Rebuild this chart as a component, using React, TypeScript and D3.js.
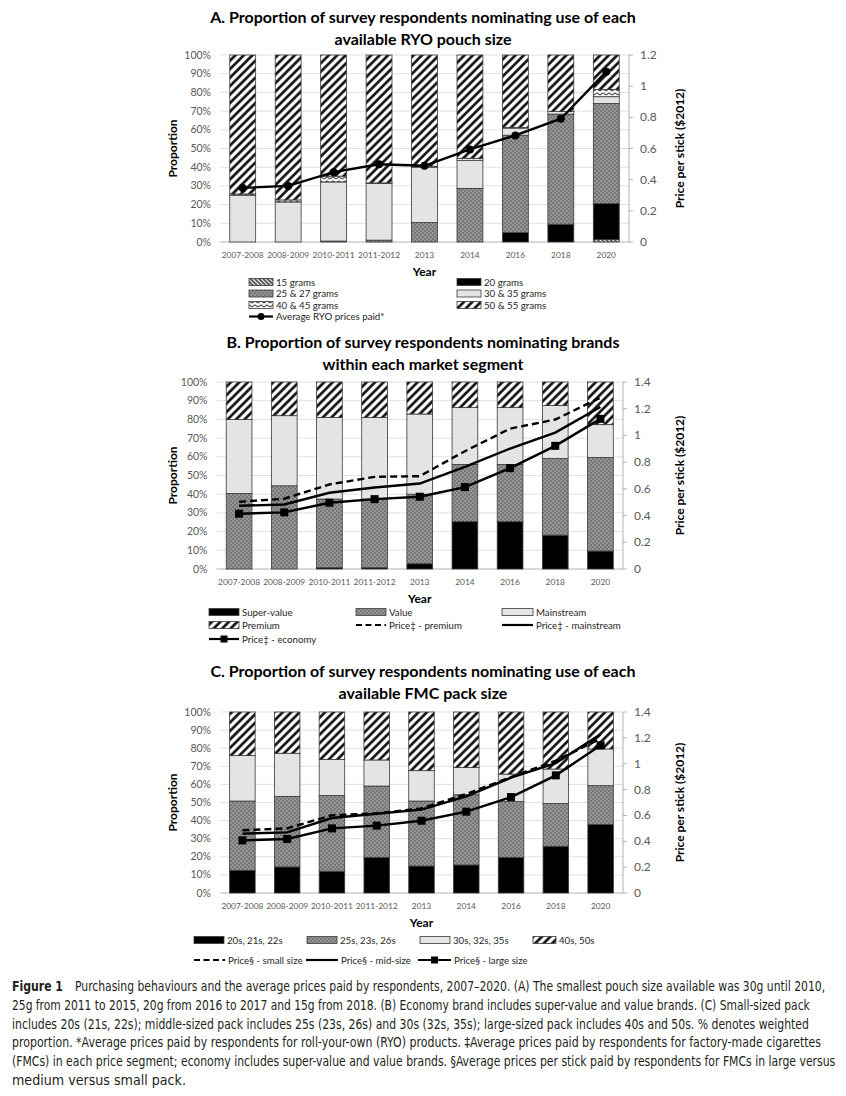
// @ts-nocheck
import React, { useLayoutEffect, useRef } from "react";
import * as d3 from "d3";

const years = ["2007-2008", "2008-2009", "2010-2011", "2011-2012", "2013", "2014", "2016", "2018", "2020"];
const pctTicks = [0, 10, 20, 30, 40, 50, 60, 70, 80, 90, 100];

// Panel A - RYO pouch size (%)
const g15 = [0, 0, 0, 0, 0, 0, 0, 0, 1.4];
const g20 = [0, 0, 0, 0, 0, 0, 5, 9.5, 19.1];
const g25 = [0, 0, 0.5, 1, 10.4, 28.7, 52.1, 58.9, 53.6];
const g30 = [25, 21.4, 31.6, 30.3, 29.6, 15, 3.8, 1.4, 3.6];
const g40 = [0.7, 1.1, 3.1, 0.3, 0.5, 1.1, 0.3, 0, 3.9];
const g50 = [74.3, 77.5, 64.8, 68.4, 59.5, 55.2, 38.8, 30.2, 18.4];
const ryoPrice = [0.347, 0.36, 0.448, 0.499, 0.489, 0.594, 0.684, 0.791, 1.093];
const ticksA = [0, 0.2, 0.4, 0.6, 0.8, 1, 1.2];

// Panel B - market segment (%)
const superValue = [0, 0, 0.7, 0.7, 2.8, 25.3, 25.3, 18.1, 9.6];
const valueSeg = [40.4, 44.5, 36.7, 36.7, 37.2, 30.6, 30.6, 41, 50];
const mainstream = [39.5, 37.5, 43.6, 43.6, 42.9, 30.4, 30.4, 28.3, 17.6];
const premium = [20.1, 18, 19, 19, 17.1, 13.7, 13.7, 12.6, 22.8];
const pricePremium = [0.503, 0.526, 0.633, 0.69, 0.695, 0.882, 1.051, 1.119, 1.283];
const priceMainstream = [0.473, 0.483, 0.571, 0.61, 0.64, 0.765, 0.902, 1.021, 1.213];
const priceEconomy = [0.414, 0.424, 0.496, 0.523, 0.541, 0.613, 0.755, 0.922, 1.124];
const ticksBC = [0, 0.2, 0.4, 0.6, 0.8, 1, 1.2, 1.4];

// Panel C - FMC pack size (%)
const p20 = [12.5, 14.4, 12, 19.7, 14.9, 15.5, 19.7, 25.8, 37.8];
const p25 = [38.3, 39, 41.8, 39.4, 35.9, 38.8, 30.8, 23.7, 21.5];
const p30 = [25.1, 23.8, 20, 14.4, 16.8, 15.1, 15.2, 19, 20.3];
const p40 = [24.1, 22.8, 26.2, 26.5, 32.4, 30.6, 34.3, 31.5, 20.4];
const priceSmall = [0.485, 0.5, 0.601, 0.616, 0.655, 0.766, 0.897, 1.023, 1.194];
const priceMid = [0.459, 0.469, 0.58, 0.613, 0.645, 0.748, 0.892, 1.005, 1.227];
const priceLarge = [0.407, 0.418, 0.5, 0.521, 0.559, 0.629, 0.742, 0.91, 1.142];

const FONT = "Lato, 'Open Sans', sans-serif";
const CAP_FONT = "'DejaVu Sans Condensed', 'Liberation Sans Narrow', sans-serif";

const FILL = {
  black: "#000",
  dots: "url(#dots)",
  light: "#e4e4e4",
  hatch: "url(#hatch)",
  back: "url(#back)",
  zig: "url(#zig)",
};

function Panel({ box, series, lines, rightTicks, rightMax, titles, titleY }) {
  const { left, right, top, bottom } = box;
  const x = d3.scaleBand().domain(years).range([left, right]).paddingInner(0.43).paddingOuter(0.215);
  const y = d3.scaleLinear().domain([0, 100]).range([bottom, top]);
  const y2 = d3.scaleLinear().domain([0, rightMax]).range([bottom, top]);
  const table = years.map((yr, i) => {
    const row = { year: yr };
    series.forEach((s) => (row[s.key] = s.values[i]));
    return row;
  });
  const stacked = d3.stack().keys(series.map((s) => s.key))(table);
  const cx = (i) => x(years[i]) + x.bandwidth() / 2;
  const line = d3
    .line()
    .x((d, i) => cx(i))
    .y((d) => y2(d));
  const midY = (top + bottom) / 2;
  return (
    <g>
      {titles.map((t, i) => (
        <text key={i} x={423} y={titleY + i * 22} textAnchor="middle" fontSize={16} fontWeight="bold" fill="#000">
          {t}
        </text>
      ))}
      {pctTicks.map((t) => (
        <g key={t}>
          <line x1={left} x2={right} y1={y(t)} y2={y(t)} stroke={t === 0 ? "#a0a0a0" : "#d9d9d9"} strokeWidth={0.8} />
          <text x={left - 9} y={y(t) + 3.5} textAnchor="end" fontSize={10.5} fill="#595959">
            {t}%
          </text>
        </g>
      ))}
      <line x1={right} x2={right} y1={top} y2={bottom} stroke="#a0a0a0" strokeWidth={0.8} />
      {rightTicks.map((t) => (
        <g key={t}>
          <line x1={right} x2={right + 4} y1={y2(t)} y2={y2(t)} stroke="#a0a0a0" strokeWidth={0.8} />
          <text x={right + 11} y={y2(t) + 4} fontSize={12} fill="#595959">
            {t}
          </text>
        </g>
      ))}
      {stacked.map((layer, li) => (
        <g key={layer.key}>
          {layer.map((d, i) =>
            d[1] - d[0] > 0 ? (
              <rect
                key={i}
                x={x(years[i])}
                width={x.bandwidth()}
                y={y(d[1])}
                height={y(d[0]) - y(d[1])}
                fill={series[li].fill}
                stroke="#3a3a3a"
                strokeWidth={0.8}
              />
            ) : null
          )}
        </g>
      ))}
      {lines.map((l, li) => (
        <g key={li}>
          <path d={line(l.values)} fill="none" stroke="#000" strokeWidth={2.4} strokeDasharray={l.dash || null} />
          {l.marker === "circle" &&
            l.values.map((v, i) => <circle key={i} cx={cx(i)} cy={y2(v)} r={4} fill="#000" />)}
          {l.marker === "square" &&
            l.values.map((v, i) => <rect key={i} x={cx(i) - 4} y={y2(v) - 4} width={8} height={8} fill="#000" />)}
        </g>
      ))}
      {years.map((yr) => (
        <text key={yr} x={x(yr) + x.bandwidth() / 2} y={bottom + 16} textAnchor="middle" fontSize={8.4} fill="#595959">
          {yr}
        </text>
      ))}
      <text x={(left + right) / 2} y={bottom + 34} textAnchor="middle" fontSize={12} fontWeight="bold">
        Year
      </text>
      <text transform={`translate(${177},${midY}) rotate(-90)`} textAnchor="middle" fontSize={12} fontWeight="bold">
        Proportion
      </text>
      <text transform={`translate(${684},${midY}) rotate(-90)`} textAnchor="middle" fontSize={12} fontWeight="bold">
        Price per stick ($2012)
      </text>
    </g>
  );
}

function LegendItem({ x, y, w, item }) {
  let sw;
  if (item.kind === "box") {
    sw = <rect x={x} y={y - 3.5} width={w} height={7} fill={item.fill} stroke="#3a3a3a" strokeWidth={0.8} />;
  } else {
    sw = (
      <g>
        <line x1={x} x2={x + w} y1={y} y2={y} stroke="#000" strokeWidth={2.2} strokeDasharray={item.dash || null} />
        {item.marker === "circle" && <circle cx={x + w / 2} cy={y} r={3.5} fill="#000" />}
        {item.marker === "square" && <rect x={x + w / 2 - 3.5} y={y - 3.5} width={7} height={7} fill="#000" />}
      </g>
    );
  }
  return (
    <g>
      {sw}
      <text x={x + w + 3} y={y + 3.5} fontSize={9.7} fill="#262626">
        {item.label}
      </text>
    </g>
  );
}

const caption = [
  "Purchasing behaviours and the average prices paid by respondents, 2007\u20132020. (A) The smallest pouch size available was 30g until 2010,",
  "25g from 2011 to 2015, 20g from 2016 to 2017 and 15g from 2018. (B) Economy brand includes super-value and value brands. (C) Small-sized pack",
  "includes 20s (21s, 22s); middle-sized pack includes 25s (23s, 26s) and 30s (32s, 35s); large-sized pack includes 40s and 50s. % denotes weighted",
  "proportion. *Average prices paid by respondents for roll-your-own (RYO) products. \u2021Average prices paid by respondents for factory-made cigarettes",
  "(FMCs) in each price segment; economy includes super-value and value brands. \u00a7Average prices per stick paid by respondents for FMCs in large versus",
  "medium versus small pack.",
];
// starting x and fitted width of each caption line
const captionX = [75, 12, 12, 12, 12, 12];
const captionWidths = [751, 799, 798, 810, 824, 174];

function Caption() {
  const ref = useRef(null);
  useLayoutEffect(() => {
    const texts = ref.current.querySelectorAll("text.cap");
    texts.forEach((t, i) => {
      const natural = t.getComputedTextLength();
      const sx = natural > 0 ? captionWidths[i] / natural : 1;
      t.setAttribute("transform", `translate(${captionX[i]},${991 + i * 18.8}) scale(${sx},1)`);
    });
  }, []);
  return (
    <g ref={ref} fontFamily={CAP_FONT} fontSize={13.5} fill="#231f20">
      <text x={12} y={991} fontWeight="bold" transform="translate(12,991) scale(0.9,1) translate(-12,-991)">
        Figure 1
      </text>
      {caption.map((c, i) => (
        <text key={i} className="cap" transform={`translate(${captionX[i]},${991 + i * 18.8})`}>
          {c}
        </text>
      ))}
    </g>
  );
}

export default function App() {
  const seriesA = [
    { key: "g15", values: g15, fill: FILL.back },
    { key: "g20", values: g20, fill: FILL.black },
    { key: "g25", values: g25, fill: FILL.dots },
    { key: "g30", values: g30, fill: FILL.light },
    { key: "g40", values: g40, fill: FILL.zig },
    { key: "g50", values: g50, fill: FILL.hatch },
  ];
  const seriesB = [
    { key: "sv", values: superValue, fill: FILL.black },
    { key: "v", values: valueSeg, fill: FILL.dots },
    { key: "m", values: mainstream, fill: FILL.light },
    { key: "p", values: premium, fill: FILL.hatch },
  ];
  const seriesC = [
    { key: "a", values: p20, fill: FILL.black },
    { key: "b", values: p25, fill: FILL.dots },
    { key: "c", values: p30, fill: FILL.light },
    { key: "d", values: p40, fill: FILL.hatch },
  ];
  const legA = [
    [249, 282, 24, { kind: "box", fill: FILL.back, label: "15 grams" }],
    [457, 282, 24, { kind: "box", fill: FILL.black, label: "20 grams" }],
    [249, 293.5, 24, { kind: "box", fill: FILL.dots, label: "25 & 27 grams" }],
    [457, 293.5, 24, { kind: "box", fill: FILL.light, label: "30 & 35 grams" }],
    [249, 305, 24, { kind: "box", fill: FILL.zig, label: "40 & 45 grams" }],
    [457, 305, 24, { kind: "box", fill: FILL.hatch, label: "50 & 55 grams" }],
    [249, 316.5, 24, { kind: "line", marker: "circle", label: "Average RYO prices paid*" }],
  ];
  const legB = [
    [209, 612, 30, { kind: "box", fill: FILL.black, label: "Super-value" }],
    [356, 612, 30, { kind: "box", fill: FILL.dots, label: "Value" }],
    [502, 612, 31, { kind: "box", fill: FILL.light, label: "Mainstream" }],
    [209, 625, 30, { kind: "box", fill: FILL.hatch, label: "Premium" }],
    [356, 625, 30, { kind: "line", dash: "6,3.5", label: "Price\u2021 - premium" }],
    [502, 625, 31, { kind: "line", label: "Price\u2021 - mainstream" }],
    [209, 639, 30, { kind: "line", marker: "square", label: "Price\u2021 - economy" }],
  ];
  const legC = [
    [194, 940, 30, { kind: "box", fill: FILL.black, label: "20s, 21s, 22s" }],
    [307, 940, 30, { kind: "box", fill: FILL.dots, label: "25s, 23s, 26s" }],
    [420, 940, 30, { kind: "box", fill: FILL.light, label: "30s, 32s, 35s" }],
    [533, 940, 23, { kind: "box", fill: FILL.hatch, label: "40s, 50s" }],
    [194, 960, 31, { kind: "line", dash: "6,3.5", label: "Price\u00a7 - small size" }],
    [306, 960, 32, { kind: "line", label: "Price\u00a7 - mid-size" }],
    [418, 960, 33, { kind: "line", marker: "square", label: "Price\u00a7 - large size" }],
  ];
  return (
    <svg
      width={846}
      height={1096}
      style={{ position: "absolute", left: 0, top: 0, background: "#fff" }}
      fontFamily={FONT}
    >
      <defs>
        <pattern id="hatch" width={6} height={6} patternUnits="userSpaceOnUse" patternTransform="rotate(45)">
          <rect width={6} height={6} fill="#fff" />
          <line x1={1.5} y1={0} x2={1.5} y2={6} stroke="#000" strokeWidth={2.5} />
        </pattern>
        <pattern id="back" width={3} height={3} patternUnits="userSpaceOnUse" patternTransform="rotate(-45)">
          <rect width={3} height={3} fill="#fff" />
          <line x1={1} y1={0} x2={1} y2={3} stroke="#000" strokeWidth={1.3} />
        </pattern>
        <pattern id="dots" width={4} height={4} patternUnits="userSpaceOnUse">
          <rect width={4} height={4} fill="#777" />
          <rect x={0.5} y={0.5} width={1} height={1} fill="#f0f0f0" />
          <rect x={2.5} y={2.5} width={1} height={1} fill="#f0f0f0" />
        </pattern>
        <pattern id="zig" width={6} height={4} patternUnits="userSpaceOnUse">
          <rect width={6} height={4} fill="#fff" />
          <polyline points="0,3 3,1 6,3" fill="none" stroke="#555" strokeWidth={1.1} />
        </pattern>
      </defs>

      <Panel
        box={{ left: 220, right: 629, top: 55, bottom: 242 }}
        series={seriesA}
        lines={[{ values: ryoPrice, marker: "circle" }]}
        rightTicks={ticksA}
        rightMax={1.2}
        titles={["A. Proportion of survey respondents nominating use of each", "available RYO pouch size"]}
        titleY={23}
      />
      <Panel
        box={{ left: 216.5, right: 623, top: 382, bottom: 569 }}
        series={seriesB}
        lines={[
          { values: pricePremium, dash: "7,4" },
          { values: priceMainstream },
          { values: priceEconomy, marker: "square" },
        ]}
        rightTicks={ticksBC}
        rightMax={1.4}
        titles={["B. Proportion of survey respondents nominating brands", "within each market segment"]}
        titleY={348}
      />
      <Panel
        box={{ left: 220, right: 623, top: 712, bottom: 893 }}
        series={seriesC}
        lines={[
          { values: priceSmall, dash: "7,4" },
          { values: priceMid },
          { values: priceLarge, marker: "square" },
        ]}
        rightTicks={ticksBC}
        rightMax={1.4}
        titles={["C. Proportion of survey respondents nominating use of each", "available FMC pack size"]}
        titleY={677}
      />

      {[...legA, ...legB, ...legC].map(([lx, ly, w, item], i) => (
        <LegendItem key={i} x={lx} y={ly} w={w} item={item} />
      ))}

      <Caption />
    </svg>
  );
}
